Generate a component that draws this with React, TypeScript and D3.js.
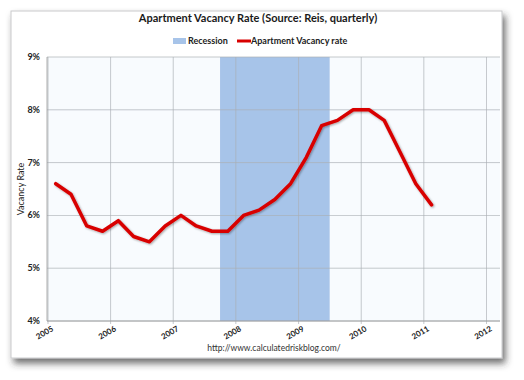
import React from "react";
import * as d3 from "d3";

const quarters = ["2005-02-15","2005-05-15","2005-08-15","2005-11-15","2006-02-15","2006-05-15","2006-08-15","2006-11-15","2007-02-15","2007-05-15","2007-08-15","2007-11-15","2008-02-15","2008-05-15","2008-08-15","2008-11-15","2009-02-15","2009-05-15","2009-08-15","2009-11-15","2010-02-15","2010-05-15","2010-08-15","2010-11-15","2011-02-15"];
const vacancy = [6.6, 6.4, 5.8, 5.7, 5.9, 5.6, 5.5, 5.8, 6.0, 5.8, 5.7, 5.7, 6.0, 6.1, 6.3, 6.6, 7.1, 7.7, 7.8, 8.0, 8.0, 7.8, 7.2, 6.6, 6.2];
const recession = ["2007-10-01", "2009-07-01"];
const yearTicks = [2005, 2006, 2007, 2008, 2009, 2010, 2011, 2012];
const yTicks = [4, 5, 6, 7, 8, 9];

const FONT = "Lato, 'Open Sans', 'Liberation Sans', sans-serif";

export default function App() {
  const parse = d3.timeParse("%Y-%m-%d");
  const left = 47, right = 500, top = 57, bottom = 321;
  const x = d3.scaleTime()
    .domain([new Date(2005, 0, 1), new Date(2012, 2, 20)])
    .range([left + 1, right]);
  const y = d3.scaleLinear().domain([4, 9]).range([bottom, top]);
  const pts = quarters.map((q, i) => [x(parse(q)!), y(vacancy[i])] as [number, number]);
  const line = d3.line().curve(d3.curveLinear)(pts) || "";
  const rx0 = x(parse(recession[0])!);
  const rx1 = x(parse(recession[1])!);
  const band = "#a7c4e9";
  const red = "#d80000";
  const grid = "#a9aeb4";

  return (
    <svg width={524} height={380} style={{ position: "absolute", left: 0, top: 0, background: "#fff" }}>
      <defs>
        <filter id="sh" x="-5%" y="-5%" width="115%" height="115%">
          <feDropShadow dx="3" dy="5" stdDeviation="3.5" floodColor="#333" floodOpacity="0.7" />
        </filter>
        <filter id="lsh" x="-5%" y="-5%" width="110%" height="110%">
          <feDropShadow dx="1" dy="1" stdDeviation="0.8" floodColor="#000" floodOpacity="0.35" />
        </filter>
      </defs>
      <rect x={11} y={11} width={491} height={347} fill="#fff" stroke="#c9cacc" strokeWidth={1} filter="url(#sh)" />
      <text x={258} y={22} textAnchor="middle" fontFamily={FONT} fontWeight="bold" fontSize={11} fill="#1a1a1a">
        Apartment Vacancy Rate (Source: Reis, quarterly)
      </text>
      {/* legend */}
      <rect x={173} y={38} width={13} height={6} fill={band} />
      <text x={188} y={44} fontFamily={FONT} fontWeight="bold" fontSize={9} fill="#222">Recession</text>
      <line x1={237} x2={251} y1={41} y2={41} stroke={red} strokeWidth={3} />
      <text x={251} y={44} fontFamily={FONT} fontWeight="bold" fontSize={9} fill="#222">Apartment Vacancy rate</text>

      {/* plot area */}
      <rect x={left} y={top} width={right - left} height={bottom - top} fill="#f8fbfe" />
      <rect x={rx0} y={top} width={rx1 - rx0} height={bottom - top} fill={band} />
      {yTicks.map((t) => (
        <line key={"h" + t} x1={left} x2={right} y1={y(t)} y2={y(t)} stroke={grid} strokeWidth={0.8} opacity={0.85} />
      ))}
      {yearTicks.map((t) => (
        <line key={"v" + t} x1={x(new Date(t, 0, 1))} x2={x(new Date(t, 0, 1))} y1={top} y2={bottom + 3} stroke={grid} strokeWidth={0.8} opacity={0.85} />
      ))}
      <line x1={left} x2={left} y1={top} y2={bottom} stroke="#999" strokeWidth={0.8} />
      <line x1={left} x2={right} y1={bottom} y2={bottom} stroke="#999" strokeWidth={0.8} />
      {yTicks.map((t) => (
        <text key={"yl" + t} x={40} y={y(t) + 3} textAnchor="end" fontFamily={FONT} fontWeight="bold" fontSize={9} fill="#222">
          {t}%
        </text>
      ))}
      {yearTicks.map((t) => {
        const xx = x(new Date(t, 0, 1));
        return (
          <text key={"xl" + t} transform={`translate(${xx - 2},${335}) rotate(-30)`} textAnchor="middle" fontFamily={FONT} fontWeight="bold" fontSize={8} fill="#222">
            {t}
          </text>
        );
      })}
      <text transform={`translate(24,${(top + bottom) / 2}) rotate(-90)`} textAnchor="middle" fontFamily={FONT} fontSize={9} fill="#222">
        Vacancy Rate
      </text>
      <path d={line} fill="none" stroke={red} strokeWidth={3.5} strokeLinejoin="round" strokeLinecap="round" filter="url(#lsh)" />
      <text x={274} y={351} textAnchor="middle" fontFamily={FONT} fontSize={8.5} fill="#333">
        http://www.calculatedriskblog.com/
      </text>
    </svg>
  );
}
